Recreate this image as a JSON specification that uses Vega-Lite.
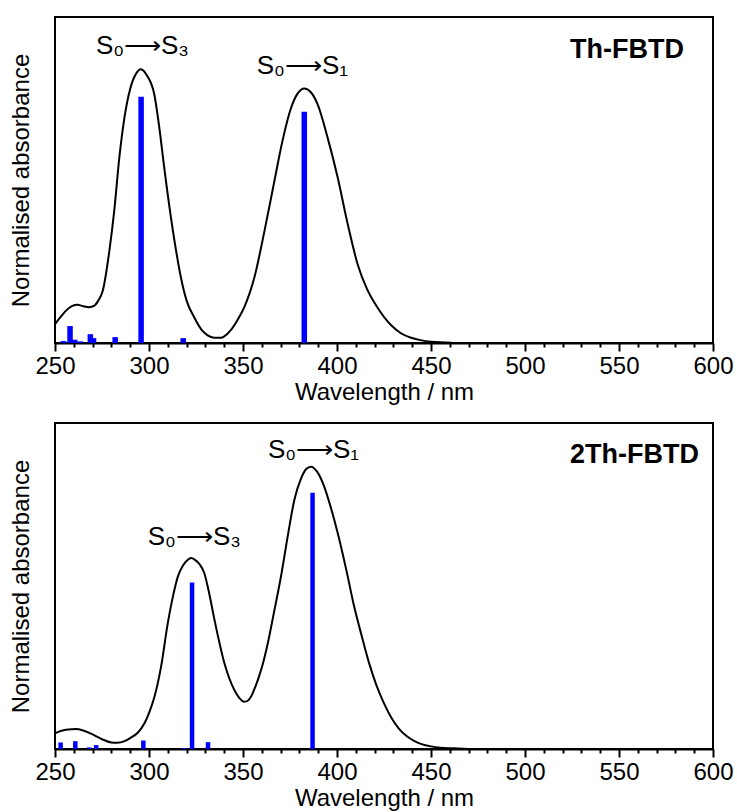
{
  "$schema": "https://vega.github.io/schema/vega-lite/v6.json",
  "padding": {"left": 8, "top": 16, "right": 20, "bottom": 2},
  "spacing": 17,
  "config": {
    "font": "Liberation Sans",
    "view": {"stroke": "black", "strokeWidth": 2}
  },
  "datasets": {
    "th_curve": [
      {"wl":250,"abs":0.058},{"wl":253,"abs":0.08},{"wl":256,"abs":0.10},{"wl":259,"abs":0.113},{"wl":262,"abs":0.117},{"wl":265,"abs":0.113},{"wl":268,"abs":0.11},{"wl":271,"abs":0.115},{"wl":273,"abs":0.13},{"wl":275.4,"abs":0.16},{"wl":278.9,"abs":0.282},{"wl":281.5,"abs":0.405},{"wl":284.2,"abs":0.568},{"wl":286.9,"abs":0.69},{"wl":290,"abs":0.78},{"wl":293,"abs":0.825},{"wl":295.7,"abs":0.84},{"wl":299,"abs":0.82},{"wl":302.8,"abs":0.763},{"wl":305.5,"abs":0.66},{"wl":308.1,"abs":0.538},{"wl":311.7,"abs":0.384},{"wl":314.5,"abs":0.28},{"wl":317,"abs":0.2},{"wl":320,"abs":0.13},{"wl":324.1,"abs":0.078},{"wl":328,"abs":0.04},{"wl":331,"abs":0.024},{"wl":334.7,"abs":0.016},{"wl":338.3,"abs":0.016},{"wl":340,"abs":0.02},{"wl":343.6,"abs":0.04},{"wl":347,"abs":0.07},{"wl":350.7,"abs":0.11},{"wl":356,"abs":0.2},{"wl":361.3,"abs":0.34},{"wl":366.7,"abs":0.497},{"wl":371,"abs":0.62},{"wl":375.5,"abs":0.72},{"wl":379,"abs":0.765},{"wl":382.6,"abs":0.781},{"wl":386,"abs":0.77},{"wl":389.7,"abs":0.732},{"wl":395,"abs":0.63},{"wl":400.4,"abs":0.507},{"wl":405.5,"abs":0.37},{"wl":411,"abs":0.241},{"wl":416,"abs":0.165},{"wl":421.6,"abs":0.108},{"wl":428.7,"abs":0.055},{"wl":434,"abs":0.03},{"wl":439.4,"abs":0.016},{"wl":445,"abs":0.008},{"wl":450,"abs":0.004},{"wl":455,"abs":0.002},{"wl":461,"abs":0.001}
    ],
    "th_sticks": [
      {"wl":254.5,"abs":0.006},{"wl":258,"abs":0.052},{"wl":260.5,"abs":0.01},{"wl":263.5,"abs":0.005},{"wl":268.8,"abs":0.027},{"wl":270.5,"abs":0.015},{"wl":282,"abs":0.018},{"wl":295.8,"abs":0.755},{"wl":318.2,"abs":0.015},{"wl":382.6,"abs":0.709}
    ],
    "th_labels": [
      {"wl":296.5,"abs":0.886,"label":"S₀⟶S₃"},
      {"wl":381.6,"abs":0.826,"label":"S₀⟶S₁"}
    ],
    "th_name": [
      {"wl":584.6,"abs":0.874,"label":"Th-FBTD"}
    ],
    "th2_curve": [
      {"wl":250,"abs":0.048},{"wl":253,"abs":0.055},{"wl":257,"abs":0.06},{"wl":261,"abs":0.061},{"wl":265,"abs":0.057},{"wl":270,"abs":0.045},{"wl":275,"abs":0.03},{"wl":280,"abs":0.02},{"wl":283,"abs":0.019},{"wl":287,"abs":0.024},{"wl":290.4,"abs":0.035},{"wl":294,"abs":0.05},{"wl":297.6,"abs":0.079},{"wl":300,"abs":0.11},{"wl":302.9,"abs":0.16},{"wl":306.4,"abs":0.252},{"wl":310,"abs":0.386},{"wl":313,"abs":0.475},{"wl":315.3,"abs":0.528},{"wl":318,"abs":0.562},{"wl":320.5,"abs":0.58},{"wl":322.5,"abs":0.586},{"wl":324.5,"abs":0.58},{"wl":327,"abs":0.566},{"wl":329.4,"abs":0.54},{"wl":332,"abs":0.478},{"wl":334.7,"abs":0.4},{"wl":337.5,"abs":0.325},{"wl":340,"abs":0.265},{"wl":342.5,"abs":0.22},{"wl":345.4,"abs":0.181},{"wl":348,"abs":0.157},{"wl":350.7,"abs":0.145},{"wl":352.5,"abs":0.148},{"wl":354.5,"abs":0.163},{"wl":356.5,"abs":0.19},{"wl":358.5,"abs":0.222},{"wl":360.5,"abs":0.26},{"wl":363.1,"abs":0.322},{"wl":366.5,"abs":0.42},{"wl":370.2,"abs":0.529},{"wl":374,"abs":0.66},{"wl":377.3,"abs":0.764},{"wl":380.9,"abs":0.83},{"wl":383.5,"abs":0.858},{"wl":386.2,"abs":0.866},{"wl":389.5,"abs":0.85},{"wl":393.2,"abs":0.805},{"wl":396.5,"abs":0.745},{"wl":400.4,"abs":0.662},{"wl":405,"abs":0.548},{"wl":409,"abs":0.44},{"wl":413,"abs":0.35},{"wl":417,"abs":0.265},{"wl":421,"abs":0.195},{"wl":425,"abs":0.14},{"wl":429,"abs":0.095},{"wl":433,"abs":0.062},{"wl":437,"abs":0.04},{"wl":441,"abs":0.025},{"wl":445,"abs":0.015},{"wl":450,"abs":0.008},{"wl":455,"abs":0.004},{"wl":462,"abs":0.002},{"wl":470,"abs":0.0}
    ],
    "th2_sticks": [
      {"wl":253,"abs":0.02},{"wl":260.8,"abs":0.024},{"wl":268.2,"abs":0.005},{"wl":271.9,"abs":0.012},{"wl":297,"abs":0.026},{"wl":318.5,"abs":0.003},{"wl":322.9,"abs":0.511},{"wl":331.4,"abs":0.021},{"wl":387,"abs":0.786}
    ],
    "th2_labels": [
      {"wl":324.1,"abs":0.626,"label":"S₀⟶S₃"},
      {"wl":387.5,"abs":0.892,"label":"S₀⟶S₁"}
    ],
    "th2_name": [
      {"wl":592.6,"abs":0.877,"label":"2Th-FBTD"}
    ]
  },
  "vconcat": [
    {
      "width": 658,
      "height": 326,
      "resolve": {"axis": {"x": "independent"}},
      "layer": [
        {
          "data": {"name": "th_curve"},
          "mark": {"type": "line", "color": "black", "strokeWidth": 2, "interpolate": "monotone"},
          "encoding": {
            "x": {"field": "wl", "type": "quantitative", "scale": {"domain": [250, 600], "nice": false, "zero": false},
              "axis": {
                "orient": "bottom",
                "title": "Wavelength / nm",
                "values": [250,300,350,400,450,500,550,600],
                "tickSize": 8,
                "grid": false, "labelFontSize": 24, "titleFontSize": 24, "titleFontWeight": "normal",
                "labelColor": "black", "titleColor": "black", "domainColor": "black", "domainWidth": 2,
                "tickColor": "black", "tickWidth": 2, "labelPadding": 3, "titlePadding": 2,
                "labelOverlap": false, "labelFlush": false
              }},
            "y": {"field": "abs", "type": "quantitative", "scale": {"domain": [0, 1], "nice": false},
              "axis": {
                "title": "Normalised absorbance", "labels": false, "ticks": false, "domain": false, "grid": false,
                "titleFontSize": 24, "titleFontWeight": "normal", "titleColor": "black", "titlePadding": 22
              }}
          }
        },
        {
          "data": {"name": "th_sticks"},
          "mark": {"type": "rule", "color": "#0000ff", "strokeWidth": 5.5},
          "encoding": {
            "x": {"field": "wl", "type": "quantitative",
              "axis": {
                "orient": "bottom", "title": null, "labels": false, "domain": false, "grid": false,
                "values": [260,270,280,290,310,320,330,340,360,370,380,390,410,420,430,440,460,470,480,490,510,520,530,540,560,570,580,590],
                "tickSize": 4, "tickColor": "black", "tickWidth": 2
              }},
            "y": {"field": "abs", "type": "quantitative"},
            "y2": {"datum": 0}
          }
        },
        {
          "data": {"name": "th_labels"},
          "mark": {"type": "text", "fontSize": 26, "align": "center", "baseline": "alphabetic", "color": "black"},
          "encoding": {
            "x": {"field": "wl", "type": "quantitative", "axis": null},
            "y": {"field": "abs", "type": "quantitative"},
            "text": {"field": "label"}
          }
        },
        {
          "data": {"name": "th_name"},
          "mark": {"type": "text", "fontSize": 27, "fontWeight": "bold", "align": "right", "baseline": "alphabetic", "color": "black"},
          "encoding": {
            "x": {"field": "wl", "type": "quantitative", "axis": null},
            "y": {"field": "abs", "type": "quantitative"},
            "text": {"field": "label"}
          }
        }
      ]
    },
    {
      "width": 658,
      "height": 326,
      "resolve": {"axis": {"x": "independent"}},
      "layer": [
        {
          "data": {"name": "th2_curve"},
          "mark": {"type": "line", "color": "black", "strokeWidth": 2, "interpolate": "monotone"},
          "encoding": {
            "x": {"field": "wl", "type": "quantitative", "scale": {"domain": [250, 600], "nice": false, "zero": false},
              "axis": {
                "orient": "bottom",
                "title": "Wavelength / nm",
                "values": [250,300,350,400,450,500,550,600],
                "tickSize": 8,
                "grid": false, "labelFontSize": 24, "titleFontSize": 24, "titleFontWeight": "normal",
                "labelColor": "black", "titleColor": "black", "domainColor": "black", "domainWidth": 2,
                "tickColor": "black", "tickWidth": 2, "labelPadding": 3, "titlePadding": 2,
                "labelOverlap": false, "labelFlush": false
              }},
            "y": {"field": "abs", "type": "quantitative", "scale": {"domain": [0, 1], "nice": false},
              "axis": {
                "title": "Normalised absorbance", "labels": false, "ticks": false, "domain": false, "grid": false,
                "titleFontSize": 24, "titleFontWeight": "normal", "titleColor": "black", "titlePadding": 22
              }}
          }
        },
        {
          "data": {"name": "th2_sticks"},
          "mark": {"type": "rule", "color": "#0000ff", "strokeWidth": 4.5},
          "encoding": {
            "x": {"field": "wl", "type": "quantitative",
              "axis": {
                "orient": "bottom", "title": null, "labels": false, "domain": false, "grid": false,
                "values": [260,270,280,290,310,320,330,340,360,370,380,390,410,420,430,440,460,470,480,490,510,520,530,540,560,570,580,590],
                "tickSize": 4, "tickColor": "black", "tickWidth": 2
              }},
            "y": {"field": "abs", "type": "quantitative"},
            "y2": {"datum": 0}
          }
        },
        {
          "data": {"name": "th2_labels"},
          "mark": {"type": "text", "fontSize": 26, "align": "center", "baseline": "alphabetic", "color": "black"},
          "encoding": {
            "x": {"field": "wl", "type": "quantitative", "axis": null},
            "y": {"field": "abs", "type": "quantitative"},
            "text": {"field": "label"}
          }
        },
        {
          "data": {"name": "th2_name"},
          "mark": {"type": "text", "fontSize": 27, "fontWeight": "bold", "align": "right", "baseline": "alphabetic", "color": "black"},
          "encoding": {
            "x": {"field": "wl", "type": "quantitative", "axis": null},
            "y": {"field": "abs", "type": "quantitative"},
            "text": {"field": "label"}
          }
        }
      ]
    }
  ]
}
